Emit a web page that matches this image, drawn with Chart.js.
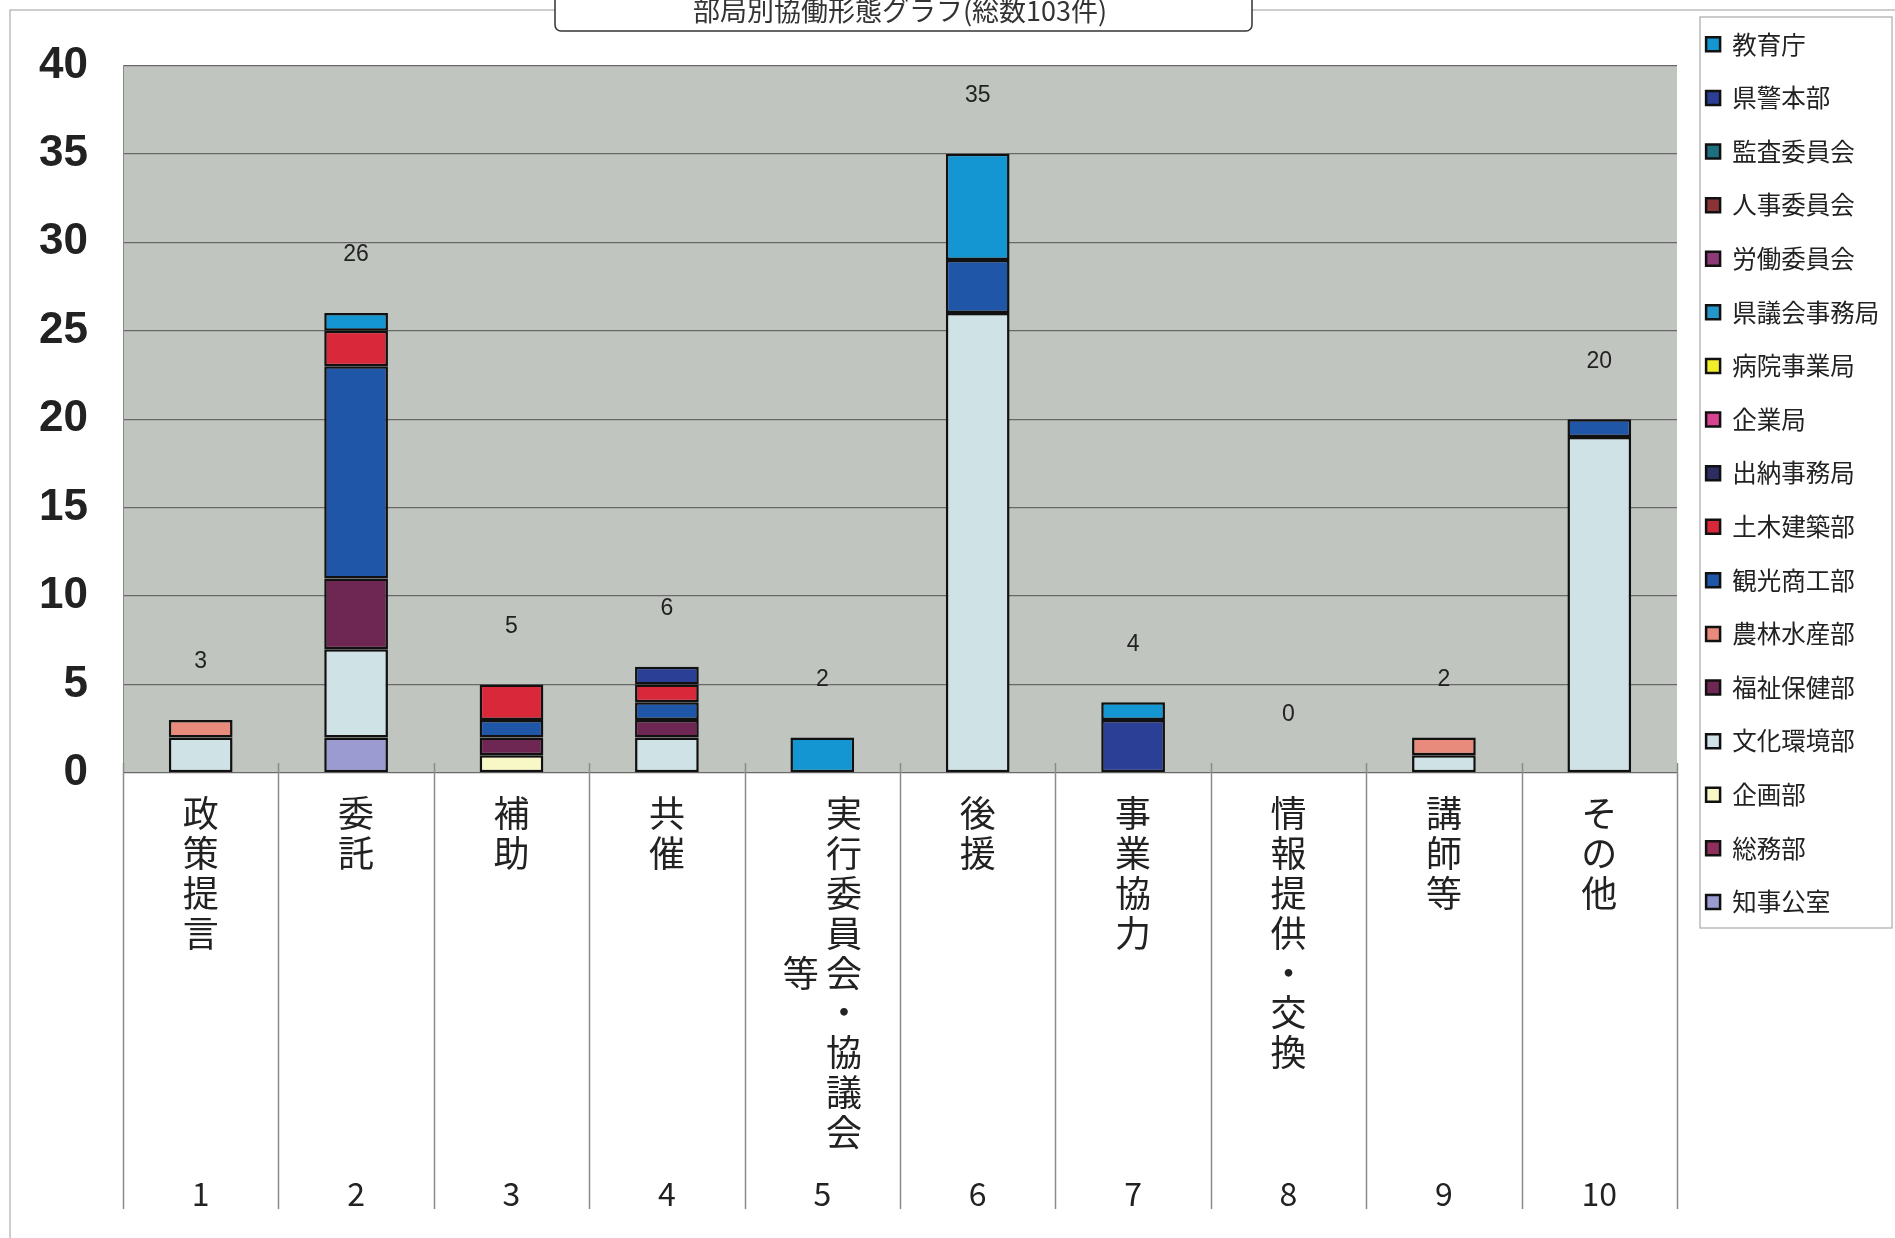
<!DOCTYPE html>
<html>
<head>
<meta charset="utf-8">
<script src="https://cdn.jsdelivr.net/npm/chart.js@4.4.1/dist/chart.umd.min.js"></script>
<style>
  html, body { margin: 0; padding: 0; background: #fff; }
  #wrap { width: 1895px; height: 1238px; }
</style>
</head>
<body>
<div id="wrap"><canvas id="chart" width="1895" height="1238"></canvas></div>
<script>
// categories (x axis) and their numbers
var categories = ["政策提言", "委託", "補助", "共催", "実行委員会・協議会等", "後援", "事業協力", "情報提供・交換", "講師等", "その他"];
var categoryNumbers = ["1", "2", "3", "4", "5", "6", "7", "8", "9", "10"];

// departments, bottom of the stack first
var departments = ["知事公室", "総務部", "企画部", "文化環境部", "福祉保健部", "農林水産部", "観光商工部", "土木建築部",
  "出納事務局", "企業局", "病院事業局", "県議会事務局", "労働委員会", "人事委員会", "監査委員会", "県警本部", "教育庁"];

// counts per category, one array per department
var chiji   = [0, 2, 0, 0, 0, 0, 0, 0, 0, 0];
var somu    = [0, 0, 0, 0, 0, 0, 0, 0, 0, 0];
var kikaku  = [0, 0, 1, 0, 0, 0, 0, 0, 0, 0];
var bunka   = [2, 5, 0, 2, 0, 26, 0, 0, 1, 19];
var fukushi = [0, 4, 1, 1, 0, 0, 0, 0, 0, 0];
var norin   = [1, 0, 0, 0, 0, 0, 0, 0, 1, 0];
var kanko   = [0, 12, 1, 1, 0, 3, 0, 0, 0, 1];
var doboku  = [0, 2, 2, 1, 0, 0, 0, 0, 0, 0];
var suito   = [0, 0, 0, 0, 0, 0, 0, 0, 0, 0];
var kigyo   = [0, 0, 0, 0, 0, 0, 0, 0, 0, 0];
var byoin   = [0, 0, 0, 0, 0, 0, 0, 0, 0, 0];
var gikai   = [0, 0, 0, 0, 0, 0, 0, 0, 0, 0];
var rodo    = [0, 0, 0, 0, 0, 0, 0, 0, 0, 0];
var jinji   = [0, 0, 0, 0, 0, 0, 0, 0, 0, 0];
var kansa   = [0, 0, 0, 0, 0, 0, 0, 0, 0, 0];
var kenkei  = [0, 0, 0, 1, 0, 0, 3, 0, 0, 0];
var kyoiku  = [0, 1, 0, 0, 2, 6, 1, 0, 0, 0];

var seriesValues = [chiji, somu, kikaku, bunka, fukushi, norin, kanko, doboku,
  suito, kigyo, byoin, gikai, rodo, jinji, kansa, kenkei, kyoiku];

var colors = ["#9b9bd2", "#8e2f5c", "#f8f7c6", "#cfe3e6", "#6e2652", "#e88b7d", "#1f56a8", "#d8283a",
  "#2e2d62", "#d94490", "#f2ee2a", "#2596c8", "#8e3a78", "#8b3438", "#1e6f80", "#2a3f95", "#1496d2"];

var jpFont = "'Noto Sans CJK JP', 'Noto Sans', sans-serif";

// stacks the characters so the label reads top to bottom;
// a long name spills its last characters into a second column
function verticalLabel(name) {
  var chars = Array.from(name);
  if (chars.length <= 9) return chars;
  var main = chars.slice(0, 9), extra = chars.slice(9).join("");
  return main.map(function (c, i) { return (i === 4 ? extra : "\u3000") + "\u2009" + c; });
}

var datasets = departments.map(function (d, i) {
  return {
    label: d,
    data: seriesValues[i].map(function (v) { return v || null; }),
    backgroundColor: colors[i],
    borderColor: "#111",
    borderWidth: 2.5,
    borderSkipped: false,
    categoryPercentage: 1,
    barPercentage: 0.41
  };
});

var decor = {
  id: "decor",
  beforeDraw: function (chart) {
    var ctx = chart.ctx, a = chart.chartArea;
    ctx.save();
    ctx.fillStyle = "#fff";
    ctx.fillRect(0, 0, chart.width, chart.height);
    // outer frame
    ctx.strokeStyle = "#bdbdbd";
    ctx.lineWidth = 1.5;
    ctx.beginPath();
    ctx.moveTo(10, chart.height);
    ctx.lineTo(10, 10);
    ctx.lineTo(chart.width, 10);
    ctx.stroke();
    // plot background
    ctx.fillStyle = "#c0c5bf";
    ctx.fillRect(a.left, a.top, a.right - a.left, a.bottom - a.top);
    // title box
    var cx = (a.left + a.right) / 2;
    ctx.fillStyle = "#fff";
    ctx.strokeStyle = "#333";
    ctx.lineWidth = 1.5;
    ctx.beginPath();
    ctx.roundRect(cx - 345, -10, 697, 41, 6);
    ctx.fill();
    ctx.stroke();
    // legend box
    var lg = chart.legend;
    ctx.strokeStyle = "#aaa";
    ctx.lineWidth = 1.2;
    ctx.strokeRect(lg.left + 23, 17, 192, 911);
    ctx.restore();
  },
  afterDatasetsDraw: function (chart) {
    var ctx = chart.ctx, a = chart.chartArea;
    var xs = chart.scales.x, ys = chart.scales.y;
    ctx.save();
    // category separators
    ctx.strokeStyle = "#8a8a8a";
    ctx.lineWidth = 1.5;
    for (var i = 0; i <= categories.length; i++) {
      var px = Math.round(xs.getPixelForValue(i - 0.5)) + 0.5;
      ctx.beginPath();
      ctx.moveTo(px, a.bottom - 10);
      ctx.lineTo(px, 1209);
      ctx.stroke();
    }
    // totals above the bars
    ctx.fillStyle = "#222";
    ctx.font = "23px 'Liberation Sans', Arial, sans-serif";
    ctx.textAlign = "center";
    ctx.textBaseline = "middle";
    categories.forEach(function (c, j) {
      var total = 0;
      seriesValues.forEach(function (s) { total += s[j]; });
      ctx.fillText(String(total), xs.getPixelForValue(j), ys.getPixelForValue(total) - 58);
    });
    ctx.restore();
  }
};

new Chart(document.getElementById("chart").getContext("2d"), {
  type: "bar",
  data: { labels: categories, datasets: datasets },
  options: {
    responsive: false,
    animation: false,
    layout: { padding: { left: 10, right: 13, top: 3, bottom: 25 } },
    plugins: {
      title: {
        display: true,
        fullSize: false,
        text: "部局別協働形態グラフ(総数103件)",
        color: "#333",
        font: { family: jpFont, size: 27, weight: "normal", lineHeight: 1.2 },
        padding: { top: -8, bottom: 38 }
      },
      legend: {
        position: "right",
        align: "start",
        reverse: true,
        maxWidth: 205,
        labels: {
          color: "#222",
          font: { family: jpFont, size: 24.5 },
          boxWidth: 14,
          boxHeight: 14,
          padding: 29.1
        }
      },
      tooltip: { enabled: false }
    },
    scales: {
      x: {
        stacked: true,
        grid: { display: false },
        border: { display: false },
        ticks: {
          autoSkip: false,
          maxRotation: 0,
          minRotation: 0,
          padding: 12,
          color: "#222",
          font: { family: jpFont, size: 36, lineHeight: 1.11 },
          callback: function (v, i) { return verticalLabel(categories[i]); }
        },
        afterFit: function (s) { s.height = 380; }
      },
      x2: {
        type: "category",
        position: "bottom",
        weight: 1,
        labels: categoryNumbers,
        offset: true,
        grid: { display: false },
        border: { display: false },
        ticks: {
          autoSkip: false,
          maxRotation: 0,
          padding: 14,
          color: "#222",
          font: { family: jpFont, size: 32, lineHeight: 1.2 }
        },
        afterFit: function (s) { s.height = 60; }
      },
      y: {
        stacked: true,
        min: 0,
        max: 40,
        ticks: {
          stepSize: 5,
          padding: 35,
          color: "#222",
          font: { family: "'Liberation Sans Narrow', 'Liberation Sans', Arial, sans-serif", size: 44, weight: "bold" }
        },
        grid: { color: "#686868", lineWidth: 1.3, drawTicks: false },
        border: { display: true, color: "#888" },
        afterFit: function (s) { s.width = 113; }
      }
    }
  },
  plugins: [decor]
});
</script>
</body>
</html>
